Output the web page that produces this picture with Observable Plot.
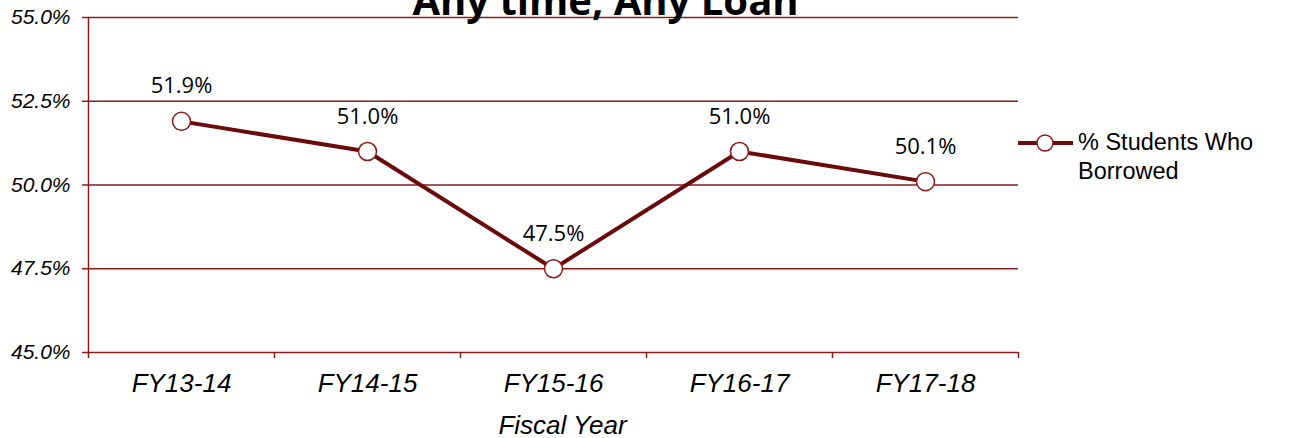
<!DOCTYPE html>
<html>
<head>
<meta charset="utf-8">
<script src="https://cdn.jsdelivr.net/npm/d3@7"></script>
<script src="https://cdn.jsdelivr.net/npm/@observablehq/plot@0.6"></script>
<style>
  html, body { margin: 0; padding: 0; background: #fff; }
  #wrap { position: relative; width: 1290px; height: 438px; overflow: hidden; }
  #legend { position: absolute; left: 1018px; top: 128px; font-family: "Liberation Sans", Arial, sans-serif; font-size: 23.5px; color: #000; line-height: 29px; }
  #legend svg { position: absolute; left: 0; top: 4px; }
  #legend .txt { position: absolute; left: 60px; top: 0; white-space: nowrap; }
</style>
</head>
<body>
<div id="wrap">
  <div id="chart"></div>
  <div id="legend">
    <svg width="58" height="22"><line x1="0" y1="11" x2="55" y2="11" stroke="#6b0a0a" stroke-width="4"/><circle cx="27" cy="11" r="8" fill="#fff" stroke="#8b1a1a" stroke-width="1.5"/></svg>
    <div class="txt">% Students Who<br>Borrowed</div>
  </div>
</div>
<script>
const title = "Any time, Any Loan";
const categories = ["FY13-14", "FY14-15", "FY15-16", "FY16-17", "FY17-18"];
const values = [51.9, 51.0, 47.5, 51.0, 50.1];
const yTicks = [45.0, 47.5, 50.0, 52.5, 55.0];
const xLabel = "Fiscal Year";

const data = categories.map((c, i) => ({cat: c, idx: i + 0.5, v: values[i]}));
const gridColor = "#8b1a1a";

const chart = Plot.plot({
  width: 1290,
  height: 438,
  marginLeft: 88,
  marginRight: 272,
  marginTop: 17,
  marginBottom: 86,
  style: {fontFamily: "'Liberation Sans', Arial, sans-serif", background: "#fff", overflow: "visible"},
  x: {type: "linear", domain: [0, categories.length]},
  y: {domain: [45, 55]},
  marks: [
    Plot.ruleY(yTicks, {stroke: gridColor, strokeWidth: 1.5}),
    Plot.ruleX([0], {stroke: gridColor, strokeWidth: 1.5}),
    Plot.axisY({ticks: yTicks, tickSize: 6, stroke: gridColor, strokeWidth: 1.5, tickFormat: d => d.toFixed(1) + "%", fontSize: 21, fontStyle: "italic", fill: "#000", tickPadding: 12, label: null}),
    Plot.axisX({ticks: d3.range(categories.length + 1), tickSize: 6, stroke: gridColor, strokeWidth: 1.5, tickFormat: () => "", label: null}),
    Plot.axisX({ticks: data.map(d => d.idx), tickSize: 0, tickFormat: (d) => categories[Math.floor(d)], fontSize: 26, fontStyle: "italic", fill: "#000", tickPadding: 21, label: null}),
    Plot.text([xLabel], {frameAnchor: "bottom", lineAnchor: "middle", dx: 9, dy: 73, fontSize: 26, fontStyle: "italic", fill: "#000"}),
    Plot.line(data, {x: "idx", y: "v", stroke: "#6b0a0a", strokeWidth: 4}),
    Plot.dot(data, {x: "idx", y: "v", r: 9, fill: "#fff", stroke: "#8b1a1a", strokeWidth: 1.5}),
    Plot.text(data, {x: "idx", y: "v", text: d => d.v.toFixed(1) + "%", dy: -35, fontSize: 22, fontFamily: "'Open Sans', sans-serif", fill: "#000"}),
    Plot.text([title], {frameAnchor: "top", lineAnchor: "middle", dx: 52, dy: -15.8, fontSize: 40, fontWeight: "bold", fontFamily: "'Open Sans', sans-serif", fill: "#000"})
  ]
});
document.getElementById("chart").appendChild(chart);
</script>
</body>
</html>
